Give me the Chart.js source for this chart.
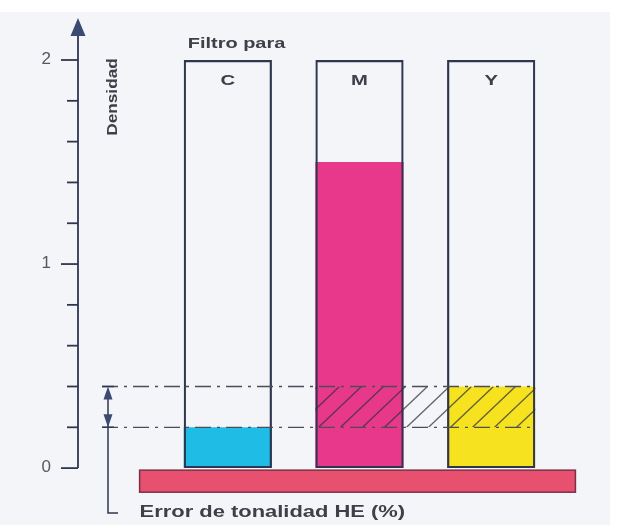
<!DOCTYPE html>
<html>
<head>
<meta charset="utf-8">
<script src="https://cdn.jsdelivr.net/npm/chart.js@4"></script>
<style>
  body { margin: 0; background: #ffffff; }
  canvas { display: block; }
</style>
</head>
<body>
<canvas id="grafico" width="618" height="525"></canvas>
<script>
// Datos del gráfico
const filtros = ['C', 'M', 'Y'];
const densidadMarco = [2, 2, 2];
const densidadFiltro = [0.2, 1.5, 0.4];
const bandaError = [0.2, 0.4];
const filtrosRayados = ['M', 'Y'];
const marcasMayores = [0, 1, 2];
const etiquetasEje = ['0', '1', '2'];
const marcasMenores = [0.2, 0.4, 0.6, 0.8, 1.2, 1.4, 1.6, 1.8];
const placaX = [-0.67, 2.64];
const placaY = [-0.118, -0.01];
const ejeMin = -0.22;
const ejeMax = 2;

const tituloFiltros = 'Filtro para';
const tituloEje = 'Densidad';
const tituloError = 'Error de tonalidad HE (%)';

const colorLinea = '#2f3650';
const colorTexto = '#3d4048';

// Texto ensanchado (la fuente original es extendida)
function textoAncho(ctx, str, x, y, size, ancho, align) {
    ctx.save();
    ctx.font = 'bold ' + size + 'px "Liberation Sans", Arial, sans-serif';
    ctx.fillStyle = colorTexto;
    ctx.textBaseline = 'alphabetic';
    ctx.textAlign = align || 'left';
    ctx.translate(x, y);
    ctx.scale(ancho, 1);
    ctx.fillText(str, 0, 0);
    ctx.restore();
}

function flecha(ctx, x, y, dir, w, h) {
    ctx.beginPath();
    ctx.moveTo(x, y);
    ctx.lineTo(x - w / 2, y + dir * h);
    ctx.lineTo(x + w / 2, y + dir * h);
    ctx.closePath();
    ctx.fill();
}

const fondo = {
    id: 'fondo',
    beforeDraw(chart) {
        const ctx = chart.ctx;
        ctx.save();
        ctx.fillStyle = '#f4f5f8';
        ctx.fillRect(0, 12, chart.width - 8, chart.height - 12);
        ctx.restore();
    }
};

const dibujo = {
    id: 'dibujo',
    beforeDatasetsDraw(chart) {
        const ctx = chart.ctx;
        const xs = chart.scales.x, ys = chart.scales.y;
        // placa base
        const x0 = xs.getPixelForValue(placaX[0]), x1 = xs.getPixelForValue(placaX[1]);
        const y0 = ys.getPixelForValue(placaY[1]), y1 = ys.getPixelForValue(placaY[0]);
        ctx.save();
        ctx.fillStyle = '#e8506f';
        ctx.fillRect(x0, y0, x1 - x0, y1 - y0);
        ctx.strokeStyle = '#7a3148';
        ctx.lineWidth = 1.5;
        ctx.strokeRect(x0, y0, x1 - x0, y1 - y0);
        ctx.restore();
    },
    afterDatasetsDraw(chart) {
        const ctx = chart.ctx;
        const xs = chart.scales.x, ys = chart.scales.y;
        const barras = chart.getDatasetMeta(0).data;
        const izq = i => barras[i].x - barras[i].width / 2;
        const der = i => barras[i].x + barras[i].width / 2;
        const ejeX = chart.chartArea.left - 84;
        const yAlto = ys.getPixelForValue(bandaError[1]);
        const yBajo = ys.getPixelForValue(bandaError[0]);

        // rayado de la banda de error
        const iA = filtros.indexOf(filtrosRayados[0]);
        const iB = filtros.indexOf(filtrosRayados[filtrosRayados.length - 1]);
        const rx0 = izq(iA), rx1 = der(iB);
        ctx.save();
        ctx.beginPath();
        ctx.rect(rx0, yAlto, rx1 - rx0, yBajo - yAlto);
        ctx.clip();
        ctx.strokeStyle = 'rgba(50,50,60,0.75)';
        ctx.lineWidth = 1.3;
        const alto = yBajo - yAlto;
        for (let x = rx0 - alto; x < rx1 + alto; x += 22) {
            ctx.beginPath();
            ctx.moveTo(x, yBajo);
            ctx.lineTo(x + alto * 1.05, yAlto);
            ctx.stroke();
        }
        ctx.restore();

        // líneas discontinuas
        ctx.save();
        ctx.strokeStyle = '#4a4e5a';
        ctx.lineWidth = 1.3;
        ctx.setLineDash([16, 6, 3, 6]);
        [yAlto, yBajo].forEach(y => {
            ctx.beginPath();
            ctx.moveTo(ejeX + 24, y);
            ctx.lineTo(der(filtros.length - 1), y);
            ctx.stroke();
        });
        ctx.restore();

        // eje vertical con flecha
        const y0 = ys.getPixelForValue(0);
        const yTop = ys.getPixelForValue(ejeMax);
        ctx.save();
        ctx.strokeStyle = colorLinea;
        ctx.fillStyle = '#3b4a72';
        ctx.lineWidth = 1.8;
        ctx.beginPath();
        ctx.moveTo(ejeX, y0);
        ctx.lineTo(ejeX, yTop - 25);
        ctx.stroke();
        flecha(ctx, ejeX, yTop - 42, 1, 15, 18);
        marcasMayores.forEach(v => {
            const y = ys.getPixelForValue(v);
            ctx.beginPath();
            ctx.moveTo(ejeX - 17, y);
            ctx.lineTo(ejeX, y);
            ctx.stroke();
        });
        marcasMenores.forEach(v => {
            const y = ys.getPixelForValue(v);
            ctx.beginPath();
            ctx.moveTo(ejeX - 11, y);
            ctx.lineTo(ejeX, y);
            ctx.stroke();
        });
        ctx.font = '17px "Liberation Sans", Arial, sans-serif';
        ctx.fillStyle = '#55585f';
        ctx.textAlign = 'right';
        ctx.textBaseline = 'middle';
        marcasMayores.forEach((v, i) => {
            ctx.fillText(etiquetasEje[i], ejeX - 27, ys.getPixelForValue(v) - 1);
        });
        ctx.restore();

        // flecha doble y corchete del error
        const fx = ejeX + 30;
        ctx.save();
        ctx.strokeStyle = colorLinea;
        ctx.fillStyle = '#3b4a72';
        ctx.lineWidth = 1.5;
        ctx.beginPath();
        ctx.moveTo(fx, yAlto + 4);
        ctx.lineTo(fx, chart.chartArea.bottom);
        ctx.lineTo(fx + 10, chart.chartArea.bottom);
        ctx.stroke();
        ctx.beginPath();
        ctx.moveTo(fx - 6, yAlto); ctx.lineTo(fx + 6, yAlto);
        ctx.moveTo(fx - 6, yBajo); ctx.lineTo(fx + 6, yBajo);
        ctx.stroke();
        flecha(ctx, fx, yAlto, 1, 9, 13);
        flecha(ctx, fx, yBajo, -1, 9, 13);
        ctx.restore();

        // textos
        textoAncho(ctx, tituloFiltros, izq(0) + 4, yTop - 12, 15, 1.33);
        filtros.forEach((f, i) => {
            textoAncho(ctx, f, barras[i].x, yTop + 25, 15, 1.35, 'center');
        });
        textoAncho(ctx, tituloError, xs.getPixelForValue(placaX[0]), chart.chartArea.bottom + 4, 16, 1.37);

        ctx.save();
        ctx.translate(ejeX + 35, yTop + 37);
        ctx.rotate(-Math.PI / 2);
        ctx.font = 'bold 15px "Liberation Sans Narrow", "Liberation Sans", Arial, sans-serif';
        ctx.fillStyle = colorTexto;
        ctx.textAlign = 'center';
        ctx.textBaseline = 'middle';
        ctx.scale(1.15, 1);
        ctx.fillText(tituloEje, 0, 0);
        ctx.restore();
    }
};

new Chart(document.getElementById('grafico'), {
    type: 'bar',
    data: {
        labels: filtros,
        datasets: [
            {
                label: 'Marco',
                data: densidadMarco,
                backgroundColor: 'rgba(0,0,0,0)',
                borderColor: colorLinea,
                borderWidth: 2.2,
                borderSkipped: false
            },
            {
                label: 'Densidad del filtro',
                data: densidadFiltro,
                backgroundColor: ['#1fbde6', '#e8388c', '#f6e21e'],
                borderWidth: 0
            }
        ]
    },
    options: {
        responsive: false,
        animation: false,
        layout: { padding: { left: 162, right: 61, top: 60, bottom: 12 } },
        datasets: { bar: { grouped: false, categoryPercentage: 1, barPercentage: 0.67 } },
        plugins: { legend: { display: false }, tooltip: { enabled: false } },
        scales: {
            x: { display: false },
            y: { display: false, min: ejeMin, max: ejeMax }
        }
    },
    plugins: [fondo, dibujo]
});
</script>
</body>
</html>
